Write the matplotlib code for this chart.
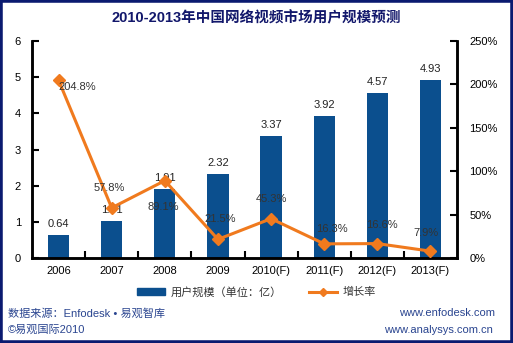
import matplotlib.pyplot as plt
from matplotlib.patches import Rectangle, Patch
from matplotlib.lines import Line2D

plt.rcParams['font.family'] = ['Liberation Sans', 'Noto Sans CJK SC', 'DejaVu Sans']

years = ['2006', '2007', '2008', '2009', '2010(F)', '2011(F)', '2012(F)', '2013(F)']
users = [0.64, 1.01, 1.91, 2.32, 3.37, 3.92, 4.57, 4.93]
growth = [204.8, 57.8, 89.1, 21.5, 45.3, 16.3, 16.6, 7.9]
growth_offsets = [(19, -7), (-2, 20), (-2, -26), (2, 20), (0, 20), (8, 15), (5, 19), (-4, 18)]

bar_color = '#0B4F8E'
line_color = '#F07A1E'
navy = '#12176B'
foot_color = '#2A4590'

fig = plt.figure(figsize=(5.13, 3.43), dpi=100)
ax = fig.add_axes([32 / 513, 1 - 258 / 343, 425 / 513, 217 / 343])
ax2 = ax.twinx()

x = range(len(years))
ax.bar(x, users, width=0.4, color=bar_color, zorder=2)
for i, v in enumerate(users):
    ax.annotate(f'{v:.2f}', (i, v), xytext=(0, 6), textcoords='offset pixels',
                ha='center', va='bottom', fontsize=8, color='#222222')

ax2.plot(x, growth, color=line_color, lw=2.2, marker='D', ms=6, zorder=3)
for i, v in enumerate(growth):
    dx, dy = growth_offsets[i]
    ax2.annotate(f'{v:.1f}%', (i, v), xytext=(dx, dy), textcoords='offset pixels',
                 ha='center', va='center', fontsize=8, color='#333333', zorder=5)

ax.set_xlim(-0.5, len(years) - 0.5)
ax.set_ylim(0, 6)
ax2.set_ylim(0, 250)
ax.set_yticks(range(7))
ax2.set_yticks(range(0, 251, 50))
ax2.set_yticklabels([f'{t}%' for t in range(0, 251, 50)])

# category labels centred, tick marks between categories
ax.set_xticks([i + 0.5 for i in range(len(years) - 1)])
ax.set_xticklabels([])
ax.set_xticks(list(x), minor=True)
ax.set_xticklabels(years, minor=True)
ax.tick_params(axis='x', which='minor', length=0, labelsize=8, pad=6)
ax.tick_params(axis='x', which='major', direction='in', length=5, width=1.5)
ax.tick_params(axis='y', direction='in', length=5, width=1.5, labelsize=8, pad=8)
ax2.tick_params(axis='y', direction='in', length=5, width=1.5, labelsize=8, pad=9)

for a in (ax, ax2):
    a.spines['top'].set_visible(False)
    for s in ('left', 'right', 'bottom'):
        a.spines[s].set_linewidth(1.8)
        a.spines[s].set_color('black')

fig.text(0.5, 1 - 18 / 343, '2010-2013年中国网络视频市场用户规模预测', ha='center', va='center',
         fontsize=10.5, fontweight='bold', color=navy)

handles = [Patch(color=bar_color, label='用户规模（单位：亿）'),
           Line2D([], [], color=line_color, lw=2.2, marker='D', ms=4, label='增长率')]
fig.legend(handles=handles, loc='center', bbox_to_anchor=(0.5, 1 - 292 / 343), ncol=2,
           frameon=False, fontsize=8, handlelength=2.5, handleheight=0.5, columnspacing=2.5,
           handletextpad=0.5, labelcolor='#333333')

fig.text(8 / 513, 1 - 313 / 343, '数据来源：Enfodesk • 易观智库', ha='left', va='center',
         fontsize=8, color=foot_color)
fig.text(8 / 513, 1 - 330 / 343, '©易观国际2010', ha='left', va='center',
         fontsize=8, color=foot_color)
fig.text(495 / 513, 1 - 313 / 343, 'www.enfodesk.com', ha='right', va='center',
         fontsize=8, color=foot_color)
fig.text(493 / 513, 1 - 330 / 343, 'www.analysys.com.cn', ha='right', va='center',
         fontsize=8, color=foot_color)

fig.patches.append(Rectangle((0, 0), 1, 1, transform=fig.transFigure, fill=False,
                             edgecolor='#0A1A70', lw=4))

fig.savefig('out.png', dpi=100)
